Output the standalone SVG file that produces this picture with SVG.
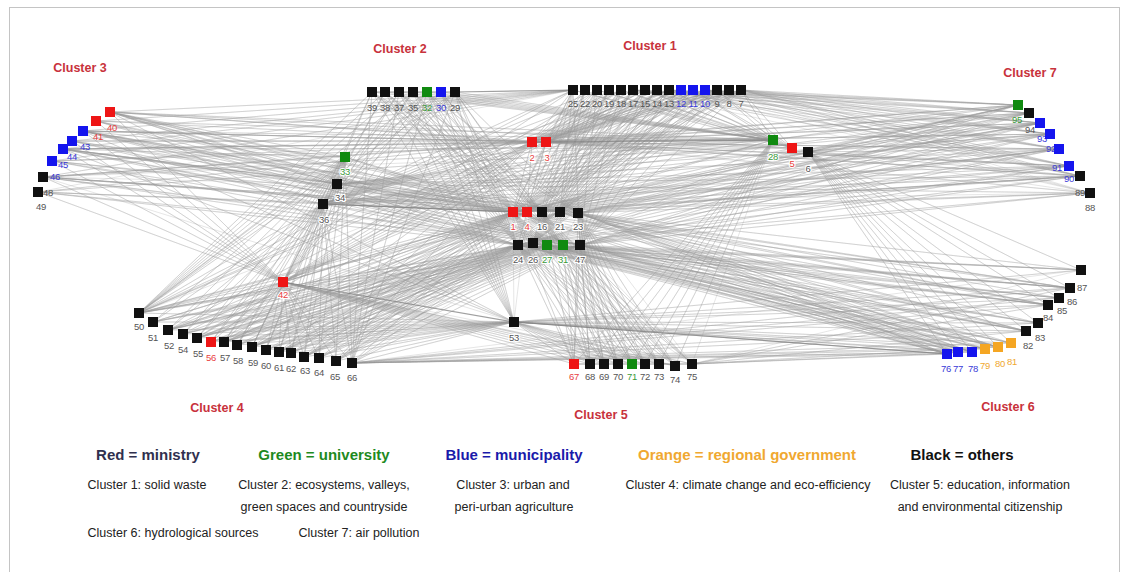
<svg xmlns="http://www.w3.org/2000/svg" width="1128" height="572" viewBox="0 0 1128 572">
<style>
.e{fill:none;stroke:#9a9a9a;stroke-opacity:.36;stroke-width:.7;stroke-linejoin:round}
.d{fill:none;stroke:#808080;stroke-opacity:.75;stroke-width:1.2}
.k{fill:#111}.r{fill:#ee1515}.g{fill:#108a10}.b{fill:#1515ee}.o{fill:#f5a623}
.l{font-family:"Liberation Sans",Arial,sans-serif;font-size:9.5px;text-anchor:middle;letter-spacing:-.4px}
.lk{fill:#555}.lr{fill:#e84040}.lg{fill:#3a9a3a}.lb{fill:#3a3ad8}.lo{fill:#f0a830}
.h{stroke:#fff;stroke-width:2.2;paint-order:stroke}
.t{font-family:"Liberation Sans",Arial,sans-serif;font-weight:bold;font-size:12.5px;fill:#c8323c;text-anchor:middle}
.lgd{font-family:"Liberation Sans",Arial,sans-serif;font-weight:bold;font-size:15px;text-anchor:middle}
.s{font-family:"Liberation Sans",Arial,sans-serif;font-size:12.5px;fill:#222;text-anchor:middle}
</style>
<rect x="9.5" y="7.5" width="1110" height="580" fill="#fff" stroke="#c4c4c4"/>
<g id="connectors">
<path class="e" d="M513 212L110 112 513 212 96 121 513 212 83 131 513 212 72 141 513 212 63 149 513 212 52 161 513 212 43 177 513 212 38 192 513 212 372 92 513 212 385 92 513 212 399 92 513 212 413 92 513 212 427 92 513 212 441 92 513 212 455 92 513 212 573 90 513 212 597 90 513 212 621 90 513 212 645 90 513 212 669 90 513 212 693 90 513 212 717 90 513 212 741 90 513 212 1018 105 513 212 1029 113 513 212 1040 123 513 212 1050 134 513 212 1059 149 513 212 1069 166 513 212 1080 176 513 212 1090 193 513 212 947 354 513 212 972 352 513 212 998 347 513 212 1026 331 513 212 1048 305 513 212 1070 288 513 212 139 313 513 212 153 322 513 212 168 330 513 212 183 334 513 212 197 338 513 212 211 342 513 212 224 342 513 212 237 345 513 212 252 347 513 212 266 350 513 212 279 352 513 212 291 353 513 212 304 357 513 212 319 358 513 212 336 361 513 212 352 363 513 212 574 364 513 212 590 364 513 212 604 364 513 212 618 364 513 212 632 364 513 212 645 364 513 212 659 364 513 212 675 366 513 212 692 364 513 212 345 157 513 212 337 184 513 212 323 204 513 212 532 142 513 212 546 142 513 212 773 140 513 212 792 148 513 212 808 152 513 212 283 282 513 212 514 322"/>
<path class="e" d="M527 212L110 112 527 212 83 131 527 212 63 149 527 212 43 177 527 212 573 90 527 212 585 90 527 212 597 90 527 212 609 90 527 212 621 90 527 212 633 90 527 212 645 90 527 212 657 90 527 212 669 90 527 212 681 90 527 212 693 90 527 212 705 90 527 212 717 90 527 212 729 90 527 212 741 90 527 212 139 313 527 212 168 330 527 212 197 338 527 212 224 342 527 212 252 347 527 212 279 352 527 212 304 357 527 212 336 361 527 212 1018 105 527 212 1040 123 527 212 1059 149 527 212 1080 176 527 212 345 157 527 212 337 184 527 212 323 204 527 212 532 142 527 212 546 142 527 212 773 140 527 212 283 282 527 212 514 322"/>
<path class="e" d="M542 212L372 92 542 212 385 92 542 212 399 92 542 212 413 92 542 212 427 92 542 212 441 92 542 212 455 92 542 212 1018 105 542 212 1040 123 542 212 1059 149 542 212 1080 176 542 212 574 364 542 212 590 364 542 212 604 364 542 212 618 364 542 212 632 364 542 212 645 364 542 212 659 364 542 212 675 366 542 212 692 364 542 212 585 90 542 212 609 90 542 212 633 90 542 212 657 90 542 212 681 90 542 212 705 90 542 212 729 90"/>
<path class="e" d="M560 212L110 112 560 212 96 121 560 212 83 131 560 212 72 141 560 212 63 149 560 212 52 161 560 212 43 177 560 212 38 192 560 212 573 90 560 212 585 90 560 212 597 90 560 212 609 90 560 212 621 90 560 212 633 90 560 212 645 90 560 212 657 90 560 212 669 90 560 212 681 90 560 212 693 90 560 212 705 90 560 212 717 90 560 212 729 90 560 212 741 90 560 212 947 354 560 212 972 352 560 212 998 347 560 212 1026 331 560 212 1048 305 560 212 1070 288 560 212 139 313 560 212 168 330 560 212 197 338 560 212 224 342 560 212 252 347 560 212 279 352 560 212 304 357 560 212 336 361"/>
<path class="e" d="M578 213L110 112 578 213 83 131 578 213 63 149 578 213 43 177 578 213 372 92 578 213 399 92 578 213 427 92 578 213 455 92 578 213 1018 105 578 213 1029 113 578 213 1040 123 578 213 1050 134 578 213 1059 149 578 213 1069 166 578 213 1080 176 578 213 1090 193 578 213 947 354 578 213 958 352 578 213 972 352 578 213 985 349 578 213 998 347 578 213 1011 343 578 213 1026 331 578 213 1038 323 578 213 1048 305 578 213 1059 298 578 213 1070 288 578 213 1081 270 578 213 574 364 578 213 590 364 578 213 604 364 578 213 618 364 578 213 632 364 578 213 645 364 578 213 659 364 578 213 675 366 578 213 692 364"/>
<path class="e" d="M518 245L110 112 518 245 96 121 518 245 83 131 518 245 72 141 518 245 63 149 518 245 52 161 518 245 43 177 518 245 38 192 518 245 372 92 518 245 385 92 518 245 399 92 518 245 413 92 518 245 427 92 518 245 441 92 518 245 455 92 518 245 1018 105 518 245 1029 113 518 245 1040 123 518 245 1050 134 518 245 1059 149 518 245 1069 166 518 245 1080 176 518 245 1090 193 518 245 947 354 518 245 958 352 518 245 972 352 518 245 985 349 518 245 998 347 518 245 1011 343 518 245 1026 331 518 245 1038 323 518 245 1048 305 518 245 1059 298 518 245 1070 288 518 245 1081 270 518 245 139 313 518 245 153 322 518 245 168 330 518 245 183 334 518 245 197 338 518 245 211 342 518 245 224 342 518 245 237 345 518 245 252 347 518 245 266 350 518 245 279 352 518 245 291 353 518 245 304 357 518 245 319 358 518 245 336 361 518 245 352 363 518 245 574 364 518 245 590 364 518 245 604 364 518 245 618 364 518 245 632 364 518 245 645 364 518 245 659 364 518 245 675 366 518 245 692 364"/>
<path class="e" d="M533 243L573 90 533 243 585 90 533 243 597 90 533 243 609 90 533 243 621 90 533 243 633 90 533 243 645 90 533 243 657 90 533 243 669 90 533 243 681 90 533 243 693 90 533 243 705 90 533 243 717 90 533 243 729 90 533 243 741 90 533 243 947 354 533 243 972 352 533 243 998 347 533 243 1026 331 533 243 1048 305 533 243 1070 288 533 243 139 313 533 243 168 330 533 243 197 338 533 243 224 342 533 243 252 347 533 243 279 352 533 243 304 357 533 243 336 361"/>
<path class="e" d="M547 245L947 354 547 245 958 352 547 245 972 352 547 245 985 349 547 245 998 347 547 245 1011 343 547 245 1026 331 547 245 1038 323 547 245 1048 305 547 245 1059 298 547 245 1070 288 547 245 1081 270 547 245 139 313 547 245 153 322 547 245 168 330 547 245 183 334 547 245 197 338 547 245 211 342 547 245 224 342 547 245 237 345 547 245 252 347 547 245 266 350 547 245 279 352 547 245 291 353 547 245 304 357 547 245 319 358 547 245 336 361 547 245 352 363"/>
<path class="e" d="M563 245L372 92 563 245 385 92 563 245 399 92 563 245 413 92 563 245 427 92 563 245 441 92 563 245 455 92 563 245 574 364 563 245 590 364 563 245 604 364 563 245 618 364 563 245 632 364 563 245 645 364 563 245 659 364 563 245 675 366 563 245 692 364 563 245 110 112 563 245 83 131 563 245 63 149 563 245 43 177"/>
<path class="e" d="M580 245L110 112 580 245 96 121 580 245 83 131 580 245 72 141 580 245 63 149 580 245 52 161 580 245 43 177 580 245 38 192 580 245 573 90 580 245 597 90 580 245 621 90 580 245 645 90 580 245 669 90 580 245 693 90 580 245 717 90 580 245 741 90 580 245 1018 105 580 245 1029 113 580 245 1040 123 580 245 1050 134 580 245 1059 149 580 245 1069 166 580 245 1080 176 580 245 1090 193 580 245 947 354 580 245 958 352 580 245 972 352 580 245 985 349 580 245 998 347 580 245 1011 343 580 245 1026 331 580 245 1038 323 580 245 1048 305 580 245 1059 298 580 245 1070 288 580 245 1081 270 580 245 139 313 580 245 153 322 580 245 168 330 580 245 183 334 580 245 197 338 580 245 211 342 580 245 224 342 580 245 237 345 580 245 252 347 580 245 266 350 580 245 279 352 580 245 291 353 580 245 304 357 580 245 319 358 580 245 336 361 580 245 352 363 580 245 574 364 580 245 590 364 580 245 604 364 580 245 618 364 580 245 632 364 580 245 645 364 580 245 659 364 580 245 675 366 580 245 692 364"/>
<path class="e" d="M532 142L110 112 532 142 96 121 532 142 83 131 532 142 72 141 532 142 63 149 532 142 52 161 532 142 43 177 532 142 38 192 532 142 573 90 532 142 585 90 532 142 597 90 532 142 609 90 532 142 621 90 532 142 633 90 532 142 645 90 532 142 657 90 532 142 669 90 532 142 681 90 532 142 693 90 532 142 705 90 532 142 717 90 532 142 729 90 532 142 741 90 532 142 139 313 532 142 168 330 532 142 197 338 532 142 224 342 532 142 252 347 532 142 279 352 532 142 304 357 532 142 336 361 532 142 1018 105 532 142 1029 113 532 142 1040 123 532 142 1050 134 532 142 1059 149 532 142 1069 166 532 142 1080 176 532 142 1090 193"/>
<path class="e" d="M546 142L110 112 546 142 83 131 546 142 63 149 546 142 43 177 546 142 573 90 546 142 585 90 546 142 597 90 546 142 609 90 546 142 621 90 546 142 633 90 546 142 645 90 546 142 657 90 546 142 669 90 546 142 681 90 546 142 693 90 546 142 705 90 546 142 717 90 546 142 729 90 546 142 741 90 546 142 1018 105 546 142 1029 113 546 142 1040 123 546 142 1050 134 546 142 1059 149 546 142 1069 166 546 142 1080 176 546 142 1090 193"/>
<path class="e" d="M773 140L110 112 773 140 96 121 773 140 83 131 773 140 72 141 773 140 63 149 773 140 52 161 773 140 43 177 773 140 38 192 773 140 372 92 773 140 385 92 773 140 399 92 773 140 413 92 773 140 427 92 773 140 441 92 773 140 455 92 773 140 573 90 773 140 597 90 773 140 621 90 773 140 645 90 773 140 669 90 773 140 693 90 773 140 717 90 773 140 741 90 773 140 574 364 773 140 590 364 773 140 604 364 773 140 618 364 773 140 632 364 773 140 645 364 773 140 659 364 773 140 675 366 773 140 692 364"/>
<path class="e" d="M792 148L573 90 792 148 597 90 792 148 621 90 792 148 645 90 792 148 669 90 792 148 693 90 792 148 717 90 792 148 741 90 792 148 110 112 792 148 83 131 792 148 63 149 792 148 43 177"/>
<path class="e" d="M808 152L947 354 808 152 958 352 808 152 972 352 808 152 985 349 808 152 998 347 808 152 1011 343 808 152 1026 331 808 152 1038 323 808 152 1048 305 808 152 1059 298 808 152 1070 288 808 152 1081 270 808 152 1018 105 808 152 1029 113 808 152 1040 123 808 152 1050 134 808 152 1059 149 808 152 1069 166 808 152 1080 176 808 152 1090 193"/>
<path class="e" d="M283 282L110 112 283 282 96 121 283 282 83 131 283 282 72 141 283 282 63 149 283 282 52 161 283 282 43 177 283 282 38 192 283 282 372 92 283 282 385 92 283 282 399 92 283 282 413 92 283 282 427 92 283 282 441 92 283 282 455 92 283 282 573 90 283 282 597 90 283 282 621 90 283 282 645 90 283 282 669 90 283 282 693 90 283 282 717 90 283 282 741 90 283 282 139 313 283 282 153 322 283 282 168 330 283 282 183 334 283 282 197 338 283 282 211 342 283 282 224 342 283 282 237 345 283 282 252 347 283 282 266 350 283 282 279 352 283 282 291 353 283 282 304 357 283 282 319 358 283 282 336 361 283 282 352 363 283 282 574 364 283 282 590 364 283 282 604 364 283 282 618 364 283 282 632 364 283 282 645 364 283 282 659 364 283 282 675 366 283 282 692 364"/>
<path class="e" d="M323 204L372 92 323 204 385 92 323 204 399 92 323 204 413 92 323 204 427 92 323 204 441 92 323 204 455 92 323 204 573 90 323 204 597 90 323 204 621 90 323 204 645 90 323 204 669 90 323 204 693 90 323 204 717 90 323 204 741 90 323 204 139 313 323 204 153 322 323 204 168 330 323 204 183 334 323 204 197 338 323 204 211 342 323 204 224 342 323 204 237 345 323 204 252 347 323 204 266 350 323 204 279 352 323 204 291 353 323 204 304 357 323 204 319 358 323 204 336 361 323 204 352 363 323 204 1018 105 323 204 1029 113 323 204 1040 123 323 204 1050 134 323 204 1059 149 323 204 1069 166 323 204 1080 176 323 204 1090 193"/>
<path class="e" d="M337 184L1018 105 337 184 1029 113 337 184 1040 123 337 184 1050 134 337 184 1059 149 337 184 1069 166 337 184 1080 176 337 184 1090 193 337 184 110 112 337 184 83 131 337 184 63 149 337 184 43 177"/>
<path class="e" d="M345 157L139 313 345 157 153 322 345 157 168 330 345 157 183 334 345 157 197 338 345 157 211 342 345 157 224 342 345 157 237 345 345 157 252 347 345 157 266 350 345 157 279 352 345 157 291 353 345 157 304 357 345 157 319 358 345 157 336 361 345 157 352 363 345 157 110 112 345 157 83 131 345 157 63 149 345 157 43 177"/>
<path class="e" d="M514 322L139 313 514 322 153 322 514 322 168 330 514 322 183 334 514 322 197 338 514 322 211 342 514 322 224 342 514 322 237 345 514 322 252 347 514 322 266 350 514 322 279 352 514 322 291 353 514 322 304 357 514 322 319 358 514 322 336 361 514 322 352 363 514 322 947 354 514 322 958 352 514 322 972 352 514 322 985 349 514 322 998 347 514 322 1011 343 514 322 1026 331 514 322 1038 323 514 322 1048 305 514 322 1059 298 514 322 1070 288 514 322 1081 270 514 322 574 364 514 322 590 364 514 322 604 364 514 322 618 364 514 322 632 364 514 322 645 364 514 322 659 364 514 322 675 366 514 322 692 364 514 322 372 92 514 322 385 92 514 322 399 92 514 322 413 92 514 322 427 92 514 322 441 92 514 322 455 92 514 322 110 112 514 322 83 131 514 322 63 149 514 322 43 177"/>
<path class="e" d="M573 90L110 112 573 90 96 121 573 90 83 131 573 90 72 141 573 90 63 149 573 90 52 161 573 90 43 177 573 90 38 192"/>
<path class="e" d="M741 90L1018 105 741 90 1029 113 741 90 1040 123 741 90 1050 134 741 90 1059 149 741 90 1069 166 741 90 1080 176 741 90 1090 193"/>
<path class="e" d="M705 90L1018 105 705 90 1029 113 705 90 1040 123 705 90 1050 134 705 90 1059 149 705 90 1069 166 705 90 1080 176 705 90 1090 193"/>
<path class="e" d="M669 90L1018 105 669 90 1029 113 669 90 1040 123 669 90 1050 134 669 90 1059 149 669 90 1069 166 669 90 1080 176 669 90 1090 193"/>
<path class="e" d="M633 90L1018 105 633 90 1029 113 633 90 1040 123 633 90 1050 134 633 90 1059 149 633 90 1069 166 633 90 1080 176 633 90 1090 193"/>
<path class="e" d="M139 313L372 92 139 313 385 92 139 313 399 92 139 313 413 92 139 313 427 92 139 313 441 92 139 313 455 92 139 313 573 90 139 313 621 90 139 313 669 90 139 313 717 90"/>
<path class="e" d="M352 363L372 92 352 363 399 92 352 363 427 92 352 363 455 92 352 363 947 354 352 363 958 352 352 363 972 352 352 363 985 349 352 363 998 347 352 363 1011 343 352 363 1026 331 352 363 1038 323 352 363 1048 305 352 363 1059 298 352 363 1070 288 352 363 1081 270"/>
<path class="e" d="M692 364L947 354 692 364 972 352 692 364 998 347 692 364 1026 331 692 364 1048 305 692 364 1070 288 692 364 1081 270"/>
<path class="e" d="M513 212L518 245 527 212 533 243 542 212 547 245 560 212 563 245 578 213 580 245 513 212M532 142L578 213M546 142L518 245M773 140L580 245M792 148L518 245M808 152L560 212M808 152L533 243M345 157L580 245M337 184L547 245"/>
<path class="d" d="M455 92L573 90M546 142L773 140M323 204L513 212M283 282L514 322M514 322L947 354M372 92L455 92M574 364L692 364M532 142L546 142"/>
</g>
<g id="cluster-titles">
<text class="t" x="80" y="72">Cluster 3</text>
<text class="t" x="400" y="53">Cluster 2</text>
<text class="t" x="650" y="50">Cluster 1</text>
<text class="t" x="1030" y="77">Cluster 7</text>
<text class="t" x="217" y="412">Cluster 4</text>
<text class="t" x="601" y="419">Cluster 5</text>
<text class="t" x="1008" y="411">Cluster 6</text>
</g>
<g id="n40"><rect class="r" x="105" y="107" width="10" height="10"/><text class="l lr" x="112" y="131">40</text></g>
<g id="n41"><rect class="r" x="91" y="116" width="10" height="10"/><text class="l lr" x="98" y="140">41</text></g>
<g id="n43"><rect class="b" x="78" y="126" width="10" height="10"/><text class="l lb" x="85" y="150">43</text></g>
<g id="n44"><rect class="b" x="67" y="136" width="10" height="10"/><text class="l lb" x="72" y="160">44</text></g>
<g id="n45"><rect class="b" x="58" y="144" width="10" height="10"/><text class="l lb" x="63" y="168">45</text></g>
<g id="n46"><rect class="b" x="47" y="156" width="10" height="10"/><text class="l lb" x="55" y="180">46</text></g>
<g id="n48"><rect class="k" x="38" y="172" width="10" height="10"/><text class="l lk" x="48" y="196">48</text></g>
<g id="n49"><rect class="k" x="33" y="187" width="10" height="10"/><text class="l lk" x="41" y="210">49</text></g>
<g id="n39"><rect class="k" x="367" y="87" width="10" height="10"/><text class="l lk" x="372" y="111">39</text></g>
<g id="n38"><rect class="k" x="380" y="87" width="10" height="10"/><text class="l lk" x="385" y="111">38</text></g>
<g id="n37"><rect class="k" x="394" y="87" width="10" height="10"/><text class="l lk" x="399" y="111">37</text></g>
<g id="n35"><rect class="k" x="408" y="87" width="10" height="10"/><text class="l lk" x="413" y="111">35</text></g>
<g id="n32"><rect class="g" x="422" y="87" width="10" height="10"/><text class="l lg" x="427" y="111">32</text></g>
<g id="n30"><rect class="b" x="436" y="87" width="10" height="10"/><text class="l lb" x="441" y="111">30</text></g>
<g id="n29"><rect class="k" x="450" y="87" width="10" height="10"/><text class="l lk" x="455" y="111">29</text></g>
<g id="n25"><rect class="k" x="568" y="85" width="10" height="10"/><text class="l lk" x="573" y="107">25</text></g>
<g id="n22"><rect class="k" x="580" y="85" width="10" height="10"/><text class="l lk" x="585" y="107">22</text></g>
<g id="n20"><rect class="k" x="592" y="85" width="10" height="10"/><text class="l lk" x="597" y="107">20</text></g>
<g id="n19"><rect class="k" x="604" y="85" width="10" height="10"/><text class="l lk" x="609" y="107">19</text></g>
<g id="n18"><rect class="k" x="616" y="85" width="10" height="10"/><text class="l lk" x="621" y="107">18</text></g>
<g id="n17"><rect class="k" x="628" y="85" width="10" height="10"/><text class="l lk" x="633" y="107">17</text></g>
<g id="n15"><rect class="k" x="640" y="85" width="10" height="10"/><text class="l lk" x="645" y="107">15</text></g>
<g id="n14"><rect class="k" x="652" y="85" width="10" height="10"/><text class="l lk" x="657" y="107">14</text></g>
<g id="n13"><rect class="k" x="664" y="85" width="10" height="10"/><text class="l lk" x="669" y="107">13</text></g>
<g id="n12"><rect class="b" x="676" y="85" width="10" height="10"/><text class="l lb" x="681" y="107">12</text></g>
<g id="n11"><rect class="b" x="688" y="85" width="10" height="10"/><text class="l lb" x="693" y="107">11</text></g>
<g id="n10"><rect class="b" x="700" y="85" width="10" height="10"/><text class="l lb" x="705" y="107">10</text></g>
<g id="n9"><rect class="k" x="712" y="85" width="10" height="10"/><text class="l lk" x="717" y="107">9</text></g>
<g id="n8"><rect class="k" x="724" y="85" width="10" height="10"/><text class="l lk" x="729" y="107">8</text></g>
<g id="n7"><rect class="k" x="736" y="85" width="10" height="10"/><text class="l lk" x="741" y="107">7</text></g>
<g id="n2"><rect class="r" x="527" y="137" width="10" height="10"/><text class="l lr h" x="532" y="161">2</text></g>
<g id="n3"><rect class="r" x="541" y="137" width="10" height="10"/><text class="l lr h" x="547" y="161">3</text></g>
<g id="n28"><rect class="g" x="768" y="135" width="10" height="10"/><text class="l lg h" x="773" y="160">28</text></g>
<g id="n5"><rect class="r" x="787" y="143" width="10" height="10"/><text class="l lr h" x="792" y="167">5</text></g>
<g id="n6"><rect class="k" x="803" y="147" width="10" height="10"/><text class="l lk h" x="808" y="172">6</text></g>
<g id="n33"><rect class="g" x="340" y="152" width="10" height="10"/><text class="l lg h" x="345" y="175">33</text></g>
<g id="n34"><rect class="k" x="332" y="179" width="10" height="10"/><text class="l lk h" x="340" y="201">34</text></g>
<g id="n36"><rect class="k" x="318" y="199" width="10" height="10"/><text class="l lk h" x="324" y="223">36</text></g>
<g id="n1"><rect class="r" x="508" y="207" width="10" height="10"/><text class="l lr h" x="513" y="230">1</text></g>
<g id="n4"><rect class="r" x="522" y="207" width="10" height="10"/><text class="l lr h" x="527" y="230">4</text></g>
<g id="n16"><rect class="k" x="537" y="207" width="10" height="10"/><text class="l lk h" x="542" y="230">16</text></g>
<g id="n21"><rect class="k" x="555" y="207" width="10" height="10"/><text class="l lk h" x="560" y="230">21</text></g>
<g id="n23"><rect class="k" x="573" y="208" width="10" height="10"/><text class="l lk h" x="578" y="230">23</text></g>
<g id="n24"><rect class="k" x="513" y="240" width="10" height="10"/><text class="l lk h" x="518" y="263">24</text></g>
<g id="n26"><rect class="k" x="528" y="238" width="10" height="10"/><text class="l lk h" x="533" y="263">26</text></g>
<g id="n27"><rect class="g" x="542" y="240" width="10" height="10"/><text class="l lg h" x="547" y="263">27</text></g>
<g id="n31"><rect class="g" x="558" y="240" width="10" height="10"/><text class="l lg h" x="563" y="263">31</text></g>
<g id="n47"><rect class="k" x="575" y="240" width="10" height="10"/><text class="l lk h" x="580" y="263">47</text></g>
<g id="n42"><rect class="r" x="278" y="277" width="10" height="10"/><text class="l lr h" x="283" y="298">42</text></g>
<g id="n53"><rect class="k" x="509" y="317" width="10" height="10"/><text class="l lk h" x="514" y="341">53</text></g>
<g id="n50"><rect class="k" x="134" y="308" width="10" height="10"/><text class="l lk" x="139" y="330">50</text></g>
<g id="n51"><rect class="k" x="148" y="317" width="10" height="10"/><text class="l lk" x="153" y="341">51</text></g>
<g id="n52"><rect class="k" x="163" y="325" width="10" height="10"/><text class="l lk" x="169" y="349">52</text></g>
<g id="n54"><rect class="k" x="178" y="329" width="10" height="10"/><text class="l lk" x="183" y="353">54</text></g>
<g id="n55"><rect class="k" x="192" y="333" width="10" height="10"/><text class="l lk" x="198" y="357">55</text></g>
<g id="n56"><rect class="r" x="206" y="337" width="10" height="10"/><text class="l lr" x="211" y="361">56</text></g>
<g id="n57"><rect class="k" x="219" y="337" width="10" height="10"/><text class="l lk" x="225" y="361">57</text></g>
<g id="n58"><rect class="k" x="232" y="340" width="10" height="10"/><text class="l lk" x="238" y="364">58</text></g>
<g id="n59"><rect class="k" x="247" y="342" width="10" height="10"/><text class="l lk" x="253" y="366">59</text></g>
<g id="n60"><rect class="k" x="261" y="345" width="10" height="10"/><text class="l lk" x="266" y="369">60</text></g>
<g id="n61"><rect class="k" x="274" y="347" width="10" height="10"/><text class="l lk" x="279" y="371">61</text></g>
<g id="n62"><rect class="k" x="286" y="348" width="10" height="10"/><text class="l lk" x="291" y="372">62</text></g>
<g id="n63"><rect class="k" x="299" y="352" width="10" height="10"/><text class="l lk" x="305" y="374">63</text></g>
<g id="n64"><rect class="k" x="314" y="353" width="10" height="10"/><text class="l lk" x="319" y="376">64</text></g>
<g id="n65"><rect class="k" x="331" y="356" width="10" height="10"/><text class="l lk" x="335" y="380">65</text></g>
<g id="n66"><rect class="k" x="347" y="358" width="10" height="10"/><text class="l lk" x="352" y="381">66</text></g>
<g id="n67"><rect class="r" x="569" y="359" width="10" height="10"/><text class="l lr" x="574" y="380">67</text></g>
<g id="n68"><rect class="k" x="585" y="359" width="10" height="10"/><text class="l lk" x="590" y="380">68</text></g>
<g id="n69"><rect class="k" x="599" y="359" width="10" height="10"/><text class="l lk" x="604" y="380">69</text></g>
<g id="n70"><rect class="k" x="613" y="359" width="10" height="10"/><text class="l lk" x="618" y="380">70</text></g>
<g id="n71"><rect class="g" x="627" y="359" width="10" height="10"/><text class="l lg" x="632" y="380">71</text></g>
<g id="n72"><rect class="k" x="640" y="359" width="10" height="10"/><text class="l lk" x="645" y="380">72</text></g>
<g id="n73"><rect class="k" x="654" y="359" width="10" height="10"/><text class="l lk" x="659" y="380">73</text></g>
<g id="n74"><rect class="k" x="670" y="361" width="10" height="10"/><text class="l lk" x="675" y="383">74</text></g>
<g id="n75"><rect class="k" x="687" y="359" width="10" height="10"/><text class="l lk" x="692" y="380">75</text></g>
<g id="n76"><rect class="b" x="942" y="349" width="10" height="10"/><text class="l lb" x="946" y="372">76</text></g>
<g id="n77"><rect class="b" x="953" y="347" width="10" height="10"/><text class="l lb" x="958" y="372">77</text></g>
<g id="n78"><rect class="b" x="967" y="347" width="10" height="10"/><text class="l lb" x="973" y="372">78</text></g>
<g id="n79"><rect class="o" x="980" y="344" width="10" height="10"/><text class="l lo" x="985" y="369">79</text></g>
<g id="n80"><rect class="o" x="993" y="342" width="10" height="10"/><text class="l lo" x="1000" y="367">80</text></g>
<g id="n81"><rect class="o" x="1006" y="338" width="10" height="10"/><text class="l lo" x="1012" y="365">81</text></g>
<g id="n82"><rect class="k" x="1021" y="326" width="10" height="10"/><text class="l lk" x="1028" y="349">82</text></g>
<g id="n83"><rect class="k" x="1033" y="318" width="10" height="10"/><text class="l lk" x="1040" y="341">83</text></g>
<g id="n84"><rect class="k" x="1043" y="300" width="10" height="10"/><text class="l lk" x="1048" y="321">84</text></g>
<g id="n85"><rect class="k" x="1054" y="293" width="10" height="10"/><text class="l lk" x="1062" y="314">85</text></g>
<g id="n86"><rect class="k" x="1065" y="283" width="10" height="10"/><text class="l lk" x="1072" y="305">86</text></g>
<g id="n87"><rect class="k" x="1076" y="265" width="10" height="10"/><text class="l lk" x="1082" y="291">87</text></g>
<g id="n95"><rect class="g" x="1013" y="100" width="10" height="10"/><text class="l lg" x="1017" y="123">95</text></g>
<g id="n94"><rect class="k" x="1024" y="108" width="10" height="10"/><text class="l lk" x="1030" y="133">94</text></g>
<g id="n93"><rect class="b" x="1035" y="118" width="10" height="10"/><text class="l lb" x="1042" y="142">93</text></g>
<g id="n92"><rect class="b" x="1045" y="129" width="10" height="10"/><text class="l lb" x="1051" y="152">92</text></g>
<g id="n91"><rect class="b" x="1054" y="144" width="10" height="10"/><text class="l lb" x="1057" y="171">91</text></g>
<g id="n90"><rect class="b" x="1064" y="161" width="10" height="10"/><text class="l lb" x="1069" y="182">90</text></g>
<g id="n89"><rect class="k" x="1075" y="171" width="10" height="10"/><text class="l lk" x="1080" y="196">89</text></g>
<g id="n88"><rect class="k" x="1085" y="188" width="10" height="10"/><text class="l lk" x="1090" y="211">88</text></g>
<g id="legend">
<text class="lgd" x="148" y="460" fill="#30304e">Red = ministry</text>
<text class="lgd" x="324" y="460" fill="#1e8a1e">Green = university</text>
<text class="lgd" x="514" y="460" fill="#1a1aaa">Blue = municipality</text>
<text class="lgd" x="747" y="460" fill="#f0a830">Orange = regional government</text>
<text class="lgd" x="962" y="460" fill="#111">Black = others</text>
<text class="s" x="147" y="489">Cluster 1: solid waste</text>
<text class="s" x="324" y="489">Cluster 2: ecosystems, valleys,</text>
<text class="s" x="324" y="511">green spaces and countryside</text>
<text class="s" x="513" y="489">Cluster 3: urban and</text>
<text class="s" x="514" y="511">peri-urban agriculture</text>
<text class="s" x="748" y="489">Cluster 4: climate change and eco-efficiency</text>
<text class="s" x="980" y="489">Cluster 5: education, information</text>
<text class="s" x="980" y="511">and environmental citizenship</text>
<text class="s" x="173" y="537">Cluster 6: hydrological sources</text>
<text class="s" x="359" y="537">Cluster 7: air pollution</text>
</g>
</svg>
